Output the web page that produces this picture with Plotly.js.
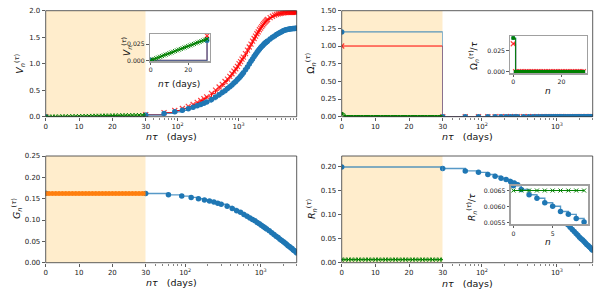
<!DOCTYPE html>
<html><head><meta charset="utf-8">
<script src="https://cdn.plot.ly/plotly-3.0.1.min.js"></script>
<style>html,body{margin:0;padding:0;background:#fff}</style>
</head><body><div id="chart" style="width:600px;height:300px"></div>
<script>
// ---------------- data ----------------
const daysLin = [0,1,2,3,4,5,6,7,8,9,10,11,12,13,14,15,16,17,18,19,20,21,22,23,24,25,26,27,28,29,30];
const stepLin = [0,30];
const xLogLong = [30,60,90,120,150,180,210,240,270,300,360,420,480,540,600,660,720,780,840,900,960,1020,1080,1140,1200,1300,1400,1500,1600,1700,1800,1900,2000,2100,2200,2300,2400,2500,2600,2700,2800,2900,3000,3300,3600,3900,4200,4500,4800,5100,5400,5700,6000,6300,6600,6900,7200,7500,7800,8100,8400,8700,9000];
const xLogShort = [30,60,90,120,150,180,210,240,270,300,360,420,480,540,600,660,720,780,840,900,960,1020,1080,1140,1200,1300,1400,1500,1600,1700,1800,1900,2000,2100,2200,2300,2400,2500,2600,2700,2800,2900,3000];

// V panel
const vGreen = [0,0.0011,0.0022,0.0033,0.0044,0.0055,0.0066,0.0077,0.0088,0.0099,0.011,0.0121,0.0132,0.0143,0.0154,0.0165,0.0176,0.0187,0.0198,0.0209,0.022,0.0231,0.0242,0.0253,0.0264,0.0275,0.0286,0.0297,0.0308,0.0319,0.033];
const vBlueLin = [0,0.031];
const vRedLin = [0,0.038];
const vBlueLog = [0.031,0.062,0.092,0.12,0.15,0.178,0.205,0.23,0.255,0.278,0.325,0.37,0.415,0.455,0.49,0.53,0.565,0.6,0.635,0.665,0.7,0.73,0.765,0.795,0.83,0.885,0.94,0.995,1.045,1.09,1.135,1.175,1.21,1.245,1.275,1.3,1.325,1.345,1.365,1.385,1.4,1.415,1.43,1.465,1.5,1.525,1.55,1.57,1.59,1.605,1.62,1.63,1.64,1.645,1.65,1.655,1.66,1.66,1.665,1.665,1.665,1.67,1.67];
const vRedLog = [0.038,0.078,0.117,0.155,0.195,0.23,0.27,0.305,0.34,0.375,0.44,0.5,0.56,0.61,0.665,0.71,0.76,0.81,0.86,0.905,0.95,1.0,1.04,1.085,1.125,1.19,1.255,1.315,1.37,1.425,1.475,1.52,1.565,1.6,1.64,1.67,1.7,1.73,1.755,1.78,1.8,1.82,1.835,1.87,1.895,1.915,1.93,1.94,1.948,1.955,1.96,1.963,1.965,1.967,1.968,1.969,1.97,1.97,1.97,1.97,1.97,1.97,1.97];

// Omega panel
const omBlueLin = [1.2,0];
const omRedLin = [1.0,0];
const omGreenLin = [0.04,0,0,0,0,0,0,0,0,0,0,0,0,0,0,0,0,0,0,0,0,0,0,0,0,0,0,0,0,0,0];
const omBlueLog = [0,0,0,0,0,0,0,0,0,0,0,0,0,0,0,0,0,0,0,0,0,0,0,0,0,0,0,0,0,0,0,0,0,0,0,0,0,0,0,0,0,0,0];
const omRedLog = [0,0,0,0,0,0,0,0,0,0,0,0,0,0,0,0,0,0,0,0,0,0,0,0,0,0,0,0,0,0,0,0,0,0,0,0,0,0,0,0,0,0,0];
const nOm = [0,1,2,3,4,5,6,7,8,9,10,11,12,13,14,15,16,17,18,19,20,21,22,23,24,25,26,27,28,29];
const omBlueIn = [0.04,0,0,0,0,0,0,0,0,0,0,0,0,0,0,0,0,0,0,0,0,0,0,0,0,0,0,0,0,0];
const omRedIn = [0.0333,0,0,0,0,0,0,0,0,0,0,0,0,0,0,0,0,0,0,0,0,0,0,0,0,0,0,0,0,0];
const omGreenIn = [0.04,0,0,0,0,0,0,0,0,0,0,0,0,0,0,0,0,0,0,0,0,0,0,0,0,0,0,0,0,0];

// G panel
const gOrange = [0.162,0.162,0.162,0.162,0.162,0.162,0.162,0.162,0.162,0.162,0.162,0.162,0.162,0.162,0.162,0.162,0.162,0.162,0.162,0.162,0.162,0.162,0.162,0.162,0.162,0.162,0.162,0.162,0.162,0.162,0.162];
const gBlueLin = [0.163,0.162];
const gBlueLog = [0.162,0.159,0.156,0.153,0.15,0.147,0.1445,0.142,0.139,0.137,0.132,0.127,0.122,0.118,0.113,0.109,0.105,0.101,0.098,0.094,0.091,0.088,0.085,0.082,0.079,0.075,0.07,0.066,0.062,0.059,0.055,0.052,0.049,0.046,0.043,0.04,0.038,0.035,0.033,0.03,0.028,0.026,0.023];

// R panel
const rGreen = [0.0065,0.0065,0.0065,0.0065,0.0065,0.0065,0.0065,0.0065,0.0065,0.0065,0.0065,0.0065,0.0065,0.0065,0.0065,0.0065,0.0065,0.0065,0.0065,0.0065,0.0065,0.0065,0.0065,0.0065,0.0065,0.0065,0.0065,0.0065,0.0065,0.0065,0.0065];
const rBlueLin = [0.199,0.196];
const rBlueLog = [0.196,0.191,0.188,0.1836,0.18,0.1755,0.173,0.169,0.1656,0.162,0.156,0.15,0.144,0.139,0.134,0.129,0.124,0.12,0.116,0.112,0.108,0.104,0.1,0.096,0.092,0.085,0.079,0.074,0.069,0.065,0.061,0.057,0.053,0.05,0.047,0.044,0.041,0.038,0.036,0.033,0.031,0.028,0.026];
const nR = [0,1,2,3,4,5,6,7,8,9];
const rBlueIn = [0.00665,0.00653,0.00637,0.00626,0.00612,0.00601,0.00585,0.00576,0.00563,0.00552];
const rGreenIn = [0.0065,0.0065,0.0065,0.0065,0.0065,0.0065,0.0065,0.0065,0.0065,0.0065];

// ticks
const linTicks = [0,10,20,30];
const logTicks = [100,1000];
const logTickText = ['10<sup>2</sup>','10<sup>3</sup>'];
const minorLog = [40,50,60,70,80,90,200,300,400,500,600,700,800,900,2000,3000,4000,5000,6000,7000,8000,9000];

// ---------------- helpers ----------------
const W = 600, H = 300;
const px = v => v / W;
const py = v => 1 - v / H;
const FONT = 'DejaVu Sans';
const BLUE = '#1f77b4', BLUEL = 'rgba(31,119,180,0.75)', RED = 'rgba(255,0,0,0.75)', GREEN = 'green', ORANGE = '#ff7f0e';

function blue(x, y, xa, ya, sz) {
  return {x, y, xaxis: xa, yaxis: ya, mode: 'lines+markers', line: {color: BLUEL, width: 1.4, shape: 'hv'},
    marker: {symbol: 'circle', size: sz || 5.5, color: BLUE}, hoverinfo: 'skip', showlegend: false};
}
function red(x, y, xa, ya) {
  return {x, y, xaxis: xa, yaxis: ya, mode: 'lines+markers', line: {color: 'red', width: 1, shape: 'hv'},
    marker: {symbol: 'x-thin', size: 5, color: RED, line: {color: RED, width: 1.2}}, hoverinfo: 'skip', showlegend: false};
}
function greenX(x, y, xa, ya, shape) {
  return {x, y, xaxis: xa, yaxis: ya, mode: 'lines+markers', line: {color: GREEN, width: 1, shape: shape || 'linear'},
    marker: {symbol: 'x-thin', size: 4, color: GREEN, line: {color: GREEN, width: 1}}, hoverinfo: 'skip', showlegend: false};
}
function greenS(x, y, xa, ya) {
  return {x, y, xaxis: xa, yaxis: ya, mode: 'lines+markers', line: {color: GREEN, width: 1, shape: 'hv'},
    marker: {symbol: 'square', size: 3.5, color: GREEN}, hoverinfo: 'skip', showlegend: false};
}
function orange(x, y, xa, ya) {
  return {x, y, xaxis: xa, yaxis: ya, mode: 'lines+markers', line: {color: ORANGE, width: 1},
    marker: {symbol: 'circle', size: 5, color: ORANGE}, hoverinfo: 'skip', showlegend: false};
}

const tickBase = {ticks: 'outside', ticklen: 3, tickwidth: 0.8, tickcolor: '#333', showgrid: false, zeroline: false,
  showline: false, tickfont: {family: FONT, size: 7, color: '#222'}};
function linX(d0, d1, yanchor) {
  return Object.assign({}, tickBase, {domain: [px(d0), px(d1)], range: [0, 30], tickvals: linTicks, anchor: yanchor});
}
function logX(d0, d1, yanchor, xmax) {
  return Object.assign({}, tickBase, {type: 'log', domain: [px(d0), px(d1)], range: [Math.log10(30), Math.log10(xmax)],
    tickvals: logTicks, ticktext: logTickText, anchor: yanchor,
    minor: {tickvals: minorLog, ticks: 'outside', ticklen: 1.8, tickwidth: 0.6, tickcolor: '#333'}});
}
function mainY(t0, t1, xanchor, rng, dt, fmt) {
  return Object.assign({}, tickBase, {domain: [py(t1), py(t0)], range: rng, dtick: dt, tick0: 0, tickformat: fmt, anchor: xanchor});
}
const insetBase = {ticks: 'outside', ticklen: 2.5, tickwidth: 0.8, tickcolor: '#333', showgrid: false, zeroline: false,
  showline: true, mirror: true, linecolor: '#a0a0a0', linewidth: 1.5, tickfont: {family: FONT, size: 6.2, color: '#222'}};
function inX(d0, d1, yanchor, rng, tv) {
  return Object.assign({}, insetBase, {domain: [px(d0), px(d1)], range: rng, tickvals: tv, anchor: yanchor});
}
function inY(t0, t1, xanchor, rng, tv, fmt) {
  return Object.assign({}, insetBase, {domain: [py(t1), py(t0)], range: rng, tickvals: tv, tickformat: fmt, anchor: xanchor});
}

// panel geometry (px)
const TL = {l: 45.7, m: 145.7, r: 296.7, t: 10.7, b: 116.7};
const TR = {l: 341.7, m: 442.7, r: 592.7, t: 10.7, b: 116.7};
const BL = {l: 45.7, m: 145.7, r: 296.7, t: 156, b: 262.7};
const BR = {l: 341.7, m: 442.7, r: 592.7, t: 156, b: 262.7};

const data = [
  // V (top-left)
  red(stepLin, vRedLin, 'x', 'y'), blue(stepLin, vBlueLin, 'x', 'y'), greenX(daysLin, vGreen, 'x', 'y'),
  red(xLogLong, vRedLog, 'x2', 'y'), blue(xLogLong, vBlueLog, 'x2', 'y'),
  // Omega (top-right)
  red(stepLin, omRedLin, 'x3', 'y2'), blue(stepLin, omBlueLin, 'x3', 'y2'), greenS(daysLin, omGreenLin, 'x3', 'y2'),
  red(xLogShort, omRedLog, 'x4', 'y2'), blue(xLogShort, omBlueLog, 'x4', 'y2'),
  // G (bottom-left)
  blue(stepLin, gBlueLin, 'x5', 'y3'), orange(daysLin, gOrange, 'x5', 'y3'),
  blue(xLogShort, gBlueLog, 'x6', 'y3'),
  // R (bottom-right)
  blue(stepLin, rBlueLin, 'x7', 'y4'), greenX(daysLin, rGreen, 'x7', 'y4', 'hv'),
  blue(xLogShort, rBlueLog, 'x8', 'y4'),
  // insets
  red(stepLin, vRedLin, 'x9', 'y5'), blue(stepLin, vBlueLin, 'x9', 'y5'), greenX(daysLin, vGreen, 'x9', 'y5'),
  red(nOm, omRedIn, 'x10', 'y6'), blue(nOm, omBlueIn, 'x10', 'y6', 4), greenS(nOm, omGreenIn, 'x10', 'y6'),
  blue(nR, rBlueIn, 'x11', 'y7'), greenX(nR, rGreenIn, 'x11', 'y7', 'hv')
];

const SHADE = 'rgb(255,237,204)';
const shapes = [
  {type: 'rect', xref: 'x', yref: 'y', x0: 0, x1: 30, y0: 0, y1: 2, fillcolor: SHADE, line: {width: 0}, layer: 'below'},
  {type: 'rect', xref: 'x3', yref: 'y2', x0: 0, x1: 30, y0: 0, y1: 1.5, fillcolor: SHADE, line: {width: 0}, layer: 'below'},
  {type: 'rect', xref: 'x5', yref: 'y3', x0: 0, x1: 30, y0: 0, y1: 0.25, fillcolor: SHADE, line: {width: 0}, layer: 'below'},
  {type: 'rect', xref: 'x7', yref: 'y4', x0: 0, x1: 30, y0: 0, y1: 0.222, fillcolor: SHADE, line: {width: 0}, layer: 'below'}
];
[TL, TR, BL, BR].forEach(p => shapes.push({type: 'rect', xref: 'paper', yref: 'paper', x0: px(p.l), x1: px(p.r), y0: py(p.b), y1: py(p.t),
  line: {color: '#333', width: 0.8}, fillcolor: 'rgba(0,0,0,0)', layer: 'above'}));

const NB = '\u00a0';
function ann(text, x, y, size, angle) {
  return {text, xref: 'paper', yref: 'paper', x: px(x), y: py(y), xanchor: 'center', yanchor: 'middle', showarrow: false,
    textangle: angle || 0, font: {family: FONT, size: size, color: '#111'}};
}
const xTitle = '<i>nτ</i>' + NB + NB + NB + '(days)';
const annotations = [
  ann(xTitle, (TL.l + TL.r) / 2, 136, 9.5), ann(xTitle, (TR.l + TR.r) / 2, 136.5, 9.5),
  ann(xTitle, (BL.l + BL.r) / 2, 282.7, 9.5), ann(xTitle, (BR.l + BR.r) / 2, 283, 9.5),
  ann('<i>V</i><sub><i>n</i></sub><sup>(<i>τ</i>)</sup>', 20, 63.7, 9.5, -90),
  ann('Ω<sub><i>n</i></sub><sup>(<i>τ</i>)</sup>', 311, 63.7, 9.5, -90),
  ann('<i>G</i><sub><i>n</i></sub><sup>(<i>τ</i>)</sup>', 17, 209, 9.5, -90),
  ann('<i>R</i><sub><i>n</i></sub><sup>(<i>τ</i>)</sup>', 312, 209, 9.5, -90),
  ann('<i>V</i><sub><i>n</i></sub><sup>(<i>τ</i>)</sup>', 126, 47, 9, -90),
  ann('<i>nτ</i> (days)', 178.7, 84, 9),
  ann('Ω<sub><i>n</i></sub><sup>(<i>τ</i>)</sup>/<i>τ</i>', 474, 56, 9, -90),
  ann('<i>n</i>', 548, 91, 9),
  ann('<i>R</i><sub><i>n</i></sub><sup>(<i>τ</i>)</sup>/<i>τ</i>', 472, 207, 9, -90),
  ann('<i>n</i>', 548.3, 241.7, 9)
];

const layout = {
  width: W, height: H, margin: {l: 0, r: 0, t: 0, b: 0}, paper_bgcolor: '#fff', plot_bgcolor: '#fff',
  showlegend: false, font: {family: FONT},
  xaxis: linX(TL.l, TL.m, 'y'), xaxis2: logX(TL.m, TL.r, 'y', 9000),
  yaxis: mainY(TL.t, TL.b, 'x', [0, 2], 0.5, '.1f'),
  xaxis3: linX(TR.l, TR.m, 'y2'), xaxis4: logX(TR.m, TR.r, 'y2', 3000),
  yaxis2: mainY(TR.t, TR.b, 'x3', [0, 1.5], 0.25, '.2f'),
  xaxis5: linX(BL.l, BL.m, 'y3'), xaxis6: logX(BL.m, BL.r, 'y3', 3000),
  yaxis3: mainY(BL.t, BL.b, 'x5', [0, 0.25], 0.05, '.2f'),
  xaxis7: linX(BR.l, BR.m, 'y4'), xaxis8: logX(BR.m, BR.r, 'y4', 3000),
  yaxis4: mainY(BR.t, BR.b, 'x7', [0, 0.222], 0.05, '.2f'),
  xaxis9: inX(150, 209.5, 'y5', [-0.37, 31.3], [0, 20]),
  yaxis5: inY(34, 61, 'x9', [-0.001, 0.0407], [0, 0.025], '.3f'),
  xaxis10: inX(510.3, 586.7, 'y6', [-1.2, 30.4], [0, 20]),
  yaxis6: inY(36, 73, 'x10', [-0.0015, 0.0425], [0, 0.025], '.3f'),
  xaxis11: inX(510.7, 588, 'y7', [-0.34, 9.5], [0, 5]),
  yaxis7: inY(185.7, 224.3, 'x11', [0.00545, 0.00665], [0.0055, 0.006, 0.0065], '.4f'),
  shapes, annotations
};

Plotly.newPlot('chart', data, layout, {staticPlot: true, displayModeBar: false});
</script>
</body></html>
